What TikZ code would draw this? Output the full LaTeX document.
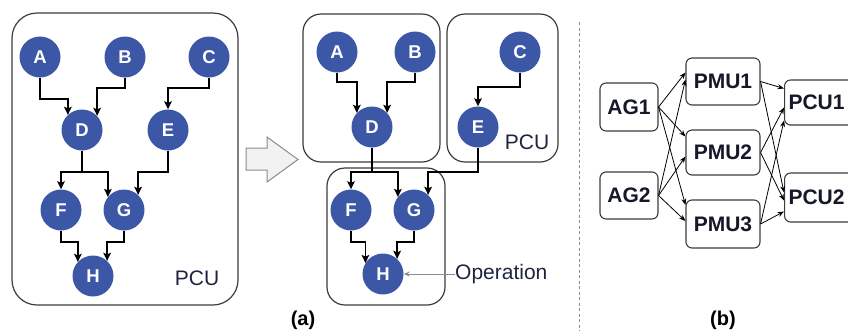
\documentclass[tikz,border=0pt]{standalone}
\usepackage{fontspec}
\setmainfont{Liberation Sans}
\usetikzlibrary{arrows.meta,calc}
\definecolor{nodeblue}{HTML}{3D57A7}
\definecolor{boxgray}{HTML}{3C3C3C}
\definecolor{lblcol}{HTML}{1E2440}
\definecolor{unitcol}{HTML}{151829}
\definecolor{bigarrowfill}{HTML}{F2F2F2}
\definecolor{bigarrowdraw}{HTML}{8C8C8C}
\begin{document}
\begin{tikzpicture}[x=1pt,y=-1pt,
  op/.style={circle,fill=nodeblue,minimum size=41pt,inner sep=0pt,text=white,font=\fontsize{18.5}{18.5}\selectfont\bfseries},
  dep/.style={line width=1.5pt,-{Stealth[length=8pt,width=7.5pt,inset=1.5pt]}},
  pcubox/.style={draw=boxgray,line width=1.2pt},
  lbl/.style={text=lblcol,font=\fontsize{21}{21}\selectfont,inner sep=0pt},
  unitbox/.style={draw=boxgray,line width=1.1pt,rounded corners=6pt,font=\fontsize{21}{21}\selectfont\bfseries,text=unitcol,inner sep=0pt},
  link/.style={line width=0.8pt,-{Stealth[length=6.5pt,width=5pt]}},
  captext/.style={font=\fontsize{20}{20}\selectfont\bfseries,inner sep=0pt}
]
\useasboundingbox (0,0) rectangle (848,330);
\clip (0,0) rectangle (848,330);

% ---------- left panel ----------
\draw[pcubox,rounded corners=25pt] (12,13) rectangle (238,305);
\node[op] (lA) at (40,57) {A};
\node[op] (lB) at (125,57) {B};
\node[op] (lC) at (209,57) {C};
\node[op] (lD) at (82,130) {D};
\node[op] (lE) at (168,130) {E};
\node[op] (lF) at (61,210) {F};
\node[op] (lG) at (124,210) {G};
\node[op] (lH) at (93,276) {H};
\node[lbl] (lpcu) at (197,278) {PCU};

\draw[dep] (lA.south) -- (lA.south |- 0,99) -| (lD.133);
\draw[dep] (lB.south) -- (lB.south |- 0,88) -| (lD.43);
\draw[dep] (lC.south) -- (lC.south |- 0,88) -| (lE.north);
\draw[dep] (lD.south) -- (lD.south |- 0,172) -| (lF.north);
\draw[dep] (lD.south) -- (lD.south |- 0,172) -| (lG.141);
\draw[dep] (lE.south) -- (lE.south |- 0,172) -| (lG.47);
\draw[dep] (lF.south) -- (lF.south |- 0,242) -| (lH.137);
\draw[dep] (lG.south) -- (lG.south |- 0,242) -| (lH.47);

% ---------- block arrow ----------
\draw[fill=bigarrowfill,draw=bigarrowdraw,line width=1pt,line join=miter]
  (246,148) -- (267,148) -- (267,137) -- (298,159.5) -- (267,182) -- (267,170) -- (246,170) -- cycle;

% ---------- middle panel ----------
\draw[pcubox,rounded corners=18pt] (303,14) rectangle (440,162);
\draw[pcubox,rounded corners=18pt] (447,14) rectangle (558,162);
\draw[pcubox,rounded corners=18pt] (327,168) rectangle (445,305);
\node[op] (mA) at (337,52) {A};
\node[op] (mB) at (415,52) {B};
\node[op] (mC) at (520,52) {C};
\node[op] (mD) at (372,127) {D};
\node[op] (mE) at (478,127) {E};
\node[op] (mF) at (351,210) {F};
\node[op] (mG) at (414,210) {G};
\node[op] (mH) at (383,274) {H};
\node[lbl] (mpcu) at (527,142) {PCU};
\node[lbl,anchor=west] (oplbl) at (455,274) {Operation};

\draw[dep] (mA.south) -- (mA.south |- 0,82) -| (mD.137);
\draw[dep] (mB.south) -- (mB.south |- 0,82) -| (mD.43);
\draw[dep] (mC.south) -- (mC.south |- 0,87) -| (mE.north);
\draw[dep] (mD.south) -- (mD.south |- 0,172) -| (mF.north);
\draw[dep] (mD.south) -- (mD.south |- 0,172) -| (mG.141);
\draw[dep] (mE.south) -- (mE.south |- 0,172) -| (mG.47);
\draw[dep] (mF.south) -- (mF.south |- 0,242) -| (mH.148);
\draw[dep] (mG.south) -- (mG.south |- 0,242) -| (mH.47);
\draw[draw=bigarrowdraw,line width=1pt,-{Stealth[length=6pt,width=5pt]}] (oplbl.west) -- (mH.east);

\node[captext] (capa) at (303,320) {(a)};

% ---------- separator ----------
\coordinate (septop) at (579,22);
\coordinate (sepbot) at (579,332);
\draw[draw=bigarrowdraw,line width=0.9pt,dash pattern=on 3pt off 2.5pt] (septop) -- (sepbot);

% ---------- right panel ----------
\node[unitbox,minimum width=58pt,minimum height=48pt] (ag1) at (629,107) {AG1};
\node[unitbox,minimum width=58pt,minimum height=47pt] (ag2) at (629,195.5) {AG2};
\node[unitbox,minimum width=74pt,minimum height=47pt] (pmu1) at (723,81.5) {PMU1};
\node[unitbox,minimum width=74pt,minimum height=45pt] (pmu2) at (723,152.5) {PMU2};
\node[unitbox,minimum width=74pt,minimum height=48pt] (pmu3) at (723,224) {PMU3};
\node[unitbox,minimum width=72pt,minimum height=45pt,anchor=west,text width=64pt,align=left] (pcu1) at (784,102.5) {PCU1};
\node[unitbox,minimum width=72pt,minimum height=49pt,anchor=west,text width=64pt,align=left] (pcu2) at (784,197.5) {PCU2};

\draw[link] (ag1.east) -- ($(pmu1.west)+(0,-9)$);
\draw[link] (ag1.east) -- ($(pmu2.west)+(0,-16)$);
\draw[link] (ag1.east) -- ($(pmu3.west)+(0,-19)$);
\draw[link] (ag2.east) -- ($(pmu1.west)+(0,-2)$);
\draw[link] (ag2.east) -- ($(pmu2.west)+(0,4)$);
\draw[link] (ag2.east) -- ($(pmu3.west)+(0,-3)$);

\draw[link] (pmu1.east) -- ($(pcu1.west)+(0,-14)$);
\draw[link] (pmu1.east) -- ($(pcu2.west)+(0,-5)$);
\draw[link] (pmu2.east) -- ($(pcu1.west)+(0,5)$);
\draw[link] (pmu2.east) -- ($(pcu2.west)+(0,3)$);
\draw[link] (pmu3.east) -- ($(pcu1.west)+(0,18)$);
\draw[link] (pmu3.east) -- ($(pcu2.west)+(0,14)$);

\node[captext] (capb) at (723,320) {(b)};
\end{tikzpicture}
\end{document}
